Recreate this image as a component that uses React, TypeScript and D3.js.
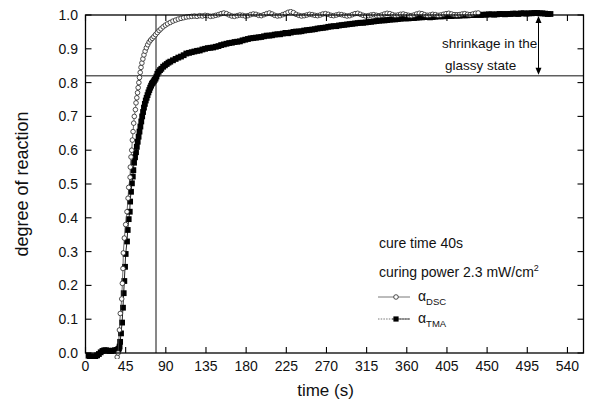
import React from "react";
import * as d3 from "d3";

// ---- data ----
const xTicks = [0, 45, 90, 135, 180, 225, 270, 315, 360, 405, 450, 495, 540];
const yTicks = [0, 0.1, 0.2, 0.3, 0.4, 0.5, 0.6, 0.7, 0.8, 0.9, 1.0];

const tmaTime = [
  3, 5, 7, 9, 11, 13, 15, 17, 19, 21, 23, 25, 27, 29, 31, 33, 35, 36.5, 37.5,
  38.2, 38.8, 39.8, 41, 42, 42.8, 43.5, 44.3, 45, 46.5, 47.3, 48.4, 49.6, 50, 51, 52, 53, 53.6, 54.4, 55.5, 56.6,
  57.5, 58.5, 59.5, 60.5, 61.5, 62.5, 63.5, 64.5, 65.5, 66.5, 67.5, 68.5, 69.5, 70.5, 71.5, 72.5, 73.5, 74.5,
  75.5, 76.5, 77.5, 78.5, 79.5, 80.5, 82, 83.5, 85, 87, 89, 91, 93, 95, 98, 101, 104, 107, 110, 113, 116, 119,
  122, 125, 128, 131, 134, 137, 140, 143, 146, 149, 152, 155, 158, 161, 164, 167, 170, 173, 176, 179, 182, 185,
  188, 191, 194, 197, 200, 203, 206, 209, 212, 215, 218, 221, 224, 227, 230, 233, 236, 239, 242, 245, 248, 251,
  254, 257, 260, 263, 266, 269, 272, 275, 278, 281, 284, 287, 290, 293, 296, 299, 302, 305, 308, 311, 314, 317,
  320, 323, 326, 329, 332, 335, 338, 341, 344, 347, 350, 353, 356, 359, 362, 365, 368, 371, 374, 377, 380, 383,
  386, 389, 392, 395, 398, 401, 404, 407, 410, 413, 416, 419, 422, 425, 428, 431, 434, 437, 440, 443, 446, 449,
  452, 455, 458, 461, 464, 467, 470, 473, 476, 479, 482, 485, 488, 491, 494, 497, 500, 503, 506, 509, 512, 515,
  518, 521,
];
const tmaValue = [
  -0.008, -0.01, -0.011, -0.011, -0.01, -0.007, -0.003, 0.002, 0.006, 0.008, 0.008, 0.007, 0.006, 0.006, 0.007, 0.008, 0.009, 0.011, 0.013,
  0.019, 0.033, 0.058, 0.09, 0.134, 0.177, 0.213, 0.255, 0.293, 0.33, 0.364, 0.396, 0.418, 0.448, 0.477, 0.502, 0.522, 0.541, 0.563, 0.579, 0.594,
  0.61, 0.625, 0.64, 0.655, 0.67, 0.685, 0.7, 0.713, 0.726, 0.737, 0.747, 0.755, 0.763, 0.771, 0.778, 0.785, 0.791, 0.797,
  0.8, 0.804, 0.808, 0.812, 0.818, 0.826, 0.832, 0.837, 0.841, 0.847, 0.851, 0.855, 0.859, 0.862, 0.866, 0.87, 0.874, 0.877, 0.881, 0.886, 0.888, 0.89,
  0.892, 0.894, 0.895, 0.898, 0.9, 0.902, 0.903, 0.904, 0.906, 0.908, 0.911, 0.913, 0.915, 0.917, 0.918, 0.92, 0.921, 0.922, 0.925, 0.927, 0.929, 0.931,
  0.932, 0.933, 0.934, 0.935, 0.937, 0.939, 0.939, 0.94, 0.942, 0.943, 0.943, 0.945, 0.947, 0.946, 0.948, 0.95, 0.951, 0.951, 0.952, 0.954, 0.955, 0.956,
  0.957, 0.958, 0.96, 0.961, 0.962, 0.963, 0.965, 0.966, 0.967, 0.967, 0.969, 0.97, 0.971, 0.972, 0.973, 0.974, 0.975, 0.976, 0.977, 0.977, 0.978, 0.979,
  0.98, 0.981, 0.982, 0.983, 0.984, 0.984, 0.985, 0.986, 0.987, 0.987, 0.988, 0.989, 0.99, 0.99, 0.99, 0.991, 0.991, 0.992, 0.993, 0.993, 0.994, 0.994,
  0.993, 0.994, 0.995, 0.996, 0.996, 0.996, 0.997, 0.997, 0.997, 0.998, 0.998, 0.998, 0.999, 0.999, 0.999, 1.0, 1.0, 1.0, 1.001, 1.0, 1.001, 1.001,
  1.002, 1.002, 1.001, 1.002, 1.003, 1.003, 1.002, 1.003, 1.003, 1.004, 1.004, 1.003, 1.005, 1.005, 1.004, 1.005, 1.005, 1.006, 1.006, 1.005, 1.005, 1.004,
  1.003, 1.003,
];

const dscTime = [
  35.5, 36.5, 38, 39, 40.6, 41.3, 42, 42.4, 43.5, 45, 46.5, 47.7, 48.4, 50, 50.2, 51, 51.8, 52.5, 53.3, 54, 54.7, 55.9, 56.6,
  57.5, 58.3, 59, 59.8, 60.5, 61.3, 62.2, 63.2, 64.3, 65.5, 66.8, 68.2, 69.7, 71.3, 73, 74.8, 76.6, 78.5, 80.5, 82.5, 84.5,
  87, 89.5, 92, 95, 98, 101, 104, 107, 110, 113, 116, 119,
  122, 125, 128, 131, 134, 137, 140, 143, 146, 149, 152, 155, 158, 161, 164, 167, 170, 173, 176, 179, 182, 185, 188, 191,
  194, 197, 200, 203, 206, 209, 212, 215, 218, 221, 224, 227, 230, 233, 236, 239, 242, 245, 248, 251, 254, 257, 260, 263,
  266, 269, 272, 275, 278, 281, 284, 287, 290, 293, 296, 299, 302, 305, 308, 311, 314, 317, 320, 323, 326, 329, 332, 335,
  338, 341, 344, 347, 350, 353, 356, 359, 362, 365, 368, 371, 374, 377, 380, 383, 386, 389, 392, 395, 398, 401, 404, 407,
  410, 413, 416, 419, 422, 425, 428, 431, 434, 437, 440,
];
const dscValue = [
  -0.012, 0.0, 0.068, 0.117, 0.16, 0.206, 0.25, 0.296, 0.34, 0.38, 0.418, 0.458, 0.49, 0.52, 0.55, 0.58, 0.6, 0.63, 0.655, 0.68, 0.7, 0.72, 0.74,
  0.755, 0.77, 0.785, 0.8, 0.815, 0.83, 0.845, 0.858, 0.87, 0.882, 0.893, 0.903, 0.912, 0.92, 0.926, 0.931, 0.936, 0.942, 0.948, 0.954, 0.959,
  0.965, 0.97, 0.974, 0.978, 0.982, 0.985, 0.988, 0.99, 0.992, 0.994, 0.995, 0.996,
  0.997, 0.996, 0.998, 0.997, 0.999, 0.998, 0.996, 0.997, 0.999, 1.001, 1.004, 1.006, 1.004, 1.0, 0.997, 0.996, 0.998, 1.0, 0.999, 0.997, 0.998, 1.001, 1.003, 1.002,
  0.999, 0.998, 1.001, 1.004, 1.006, 1.003, 0.999, 0.997, 0.998, 1.001, 1.004, 1.008, 1.01, 1.007, 1.002, 0.999, 0.997, 0.998, 1.0, 1.002, 1.001, 0.999, 0.998, 1.0,
  1.003, 1.004, 1.002, 0.999, 0.998, 1.0, 1.002, 1.001, 0.999, 0.997, 0.998, 1.001, 1.004, 1.005, 1.002, 0.999, 0.997, 0.998, 1.0, 1.001, 0.999, 0.998, 1.0, 1.003,
  1.005, 1.004, 1.001, 0.999, 1.0, 1.002, 1.003, 1.001, 0.999, 0.998, 1.0, 1.003, 1.005, 1.004, 1.001, 0.999, 1.0, 1.002, 1.001, 0.999, 1.0, 1.002, 1.004, 1.005,
  1.003, 1.001, 1.0, 1.001, 1.003, 1.004, 1.002, 1.001, 1.003, 1.005, 1.006,
];

const glassyLevel = 0.82;
const cureMarkTime = 79;

const FONT = "'Liberation Sans', Arial, Helvetica, sans-serif";

export default function App() {
  const W = 590, H = 406;
  const x = d3.scaleLinear().domain([0, 558]).range([85.5, 583.5]);
  const y = d3.scaleLinear().domain([0, 1]).range([353, 15]);
  const [x0, x1] = x.range();
  const [yb, yt] = y.range();
  const tick = 6;

  const tma = tmaTime.map((t, i) => [t, tmaValue[i]] as [number, number]);
  const dsc = dscTime.map((t, i) => [t, dscValue[i]] as [number, number]);
  const line = d3.line<[number, number]>().x((d) => x(d[0])).y((d) => y(d[1]));

  const sq = 5.8;
  const arrowX = 538.5;

  return (
    <svg width={W} height={H} style={{ position: "absolute", left: 0, top: 0, background: "#fff" }} fontFamily={FONT}>
      <defs>
        <clipPath id="plot">
          <rect x={x0} y={yt - 6} width={x1 - x0} height={yb - yt + 12} />
        </clipPath>
      </defs>
      <rect x={0} y={0} width={W} height={H} fill="#fff" />

      {/* reference lines */}
      <line x1={x(cureMarkTime)} x2={x(cureMarkTime)} y1={yt} y2={yb} stroke="#111" strokeWidth={1} />
      <line x1={x0} x2={x1} y1={y(glassyLevel)} y2={y(glassyLevel)} stroke="#111" strokeWidth={1} />

      {/* series */}
      <g clipPath="url(#plot)">
        <path d={line(tma) || ""} fill="none" stroke="#222" strokeWidth={1} />
        {tma.map((d, i) => (
          <rect key={"t" + i} x={x(d[0]) - sq / 2} y={y(d[1]) - sq / 2} width={sq} height={sq} fill="#000" />
        ))}
        <path d={line(dsc) || ""} fill="none" stroke="#444" strokeWidth={0.8} />
        {dsc.map((d, i) => (
          <circle key={"d" + i} cx={x(d[0])} cy={y(d[1])} r={2.3} fill="#fff" stroke="#222" strokeWidth={0.8} />
        ))}
      </g>

      {/* frame */}
      <rect x={x0} y={yt} width={x1 - x0} height={yb - yt} fill="none" stroke="#000" strokeWidth={1.3} />

      {/* x ticks */}
      {xTicks.map((t) => (
        <g key={"xt" + t}>
          <line x1={x(t)} x2={x(t)} y1={yb} y2={yb - tick} stroke="#000" strokeWidth={1.1} />
          <line x1={x(t)} x2={x(t)} y1={yt} y2={yt + tick} stroke="#000" strokeWidth={1.1} />
          <text x={x(t)} y={371} fontSize={14} textAnchor="middle" fill="#111">{t}</text>
        </g>
      ))}
      {/* y ticks */}
      {yTicks.map((v) => (
        <g key={"yt" + v}>
          <line x1={x0} x2={x0 + tick} y1={y(v)} y2={y(v)} stroke="#000" strokeWidth={1.1} />
          <line x1={x1} x2={x1 - tick} y1={y(v)} y2={y(v)} stroke="#000" strokeWidth={1.1} />
          <text x={78} y={y(v) + 5} fontSize={14} textAnchor="end" fill="#111">{v.toFixed(1)}</text>
        </g>
      ))}

      {/* axis titles */}
      <text x={(x0 + x1) / 2 - 9} y={396} fontSize={17} textAnchor="middle" fill="#111">time (s)</text>
      <text transform={`translate(28,184) rotate(-90)`} fontSize={18} textAnchor="middle" fill="#111">degree of reaction</text>

      {/* shrinkage annotation */}
      <line x1={arrowX} x2={arrowX} y1={yt + 5} y2={y(glassyLevel) - 5} stroke="#000" strokeWidth={1} />
      <path d={`M${arrowX},${yt + 1} l-3,7 l6,0 z`} fill="#000" />
      <path d={`M${arrowX},${y(glassyLevel) - 1} l-3,-7 l6,0 z`} fill="#000" />
      <text x={442} y={48} fontSize={13.5} fill="#111">shrinkage in the</text>
      <text x={445} y={70} fontSize={13.5} fill="#111">glassy state</text>

      {/* legend */}
      <text x={379} y={248} fontSize={14} fill="#111">cure time 40s</text>
      <text x={379} y={277} fontSize={14} fill="#111">
        curing power 2.3 mW/cm<tspan dy={-6} fontSize={9}>2</tspan>
      </text>
      <line x1={378} x2={410} y1={297} y2={297} stroke="#555" strokeWidth={0.8} />
      <circle cx={396} cy={297} r={2.3} fill="#fff" stroke="#222" strokeWidth={0.8} />
      <text x={418} y={301} fontSize={14} fill="#111">
        α<tspan dy={4} fontSize={9.5}>DSC</tspan>
      </text>
      <line x1={378} x2={410} y1={319} y2={319} stroke="#555" strokeWidth={0.8} strokeDasharray="1.5,1.2" />
      <line x1={392} x2={410} y1={319} y2={319} stroke="#444" strokeWidth={0.9} />
      <rect x={396 - 2.6} y={319 - 2.6} width={5.2} height={5.2} fill="#000" />
      <text x={418} y={323} fontSize={14} fill="#111">
        α<tspan dy={4} fontSize={9.5}>TMA</tspan>
      </text>
    </svg>
  );
}
